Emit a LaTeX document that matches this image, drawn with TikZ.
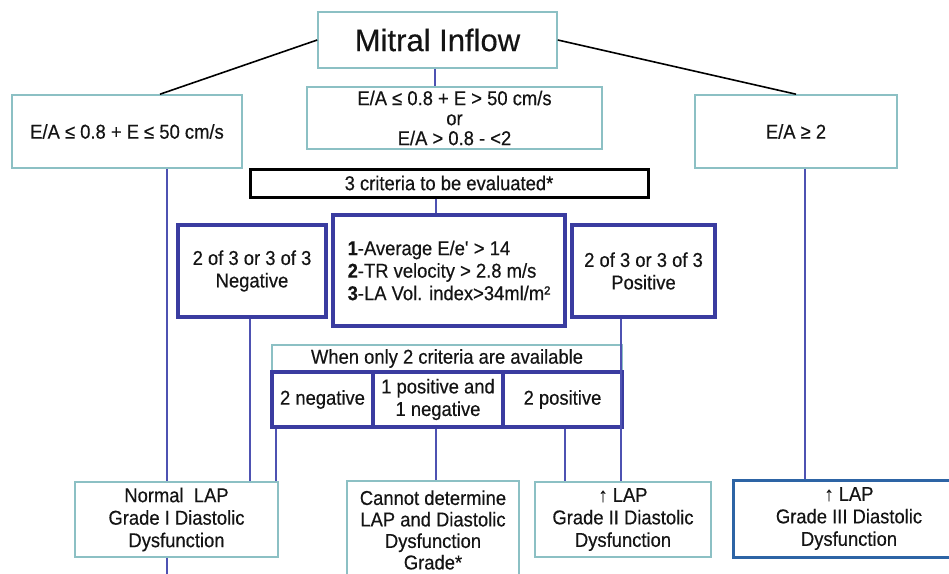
\documentclass[tikz,border=0pt]{standalone}
\usepackage{fontspec}
\setmainfont{Liberation Sans}[FakeStretch=0.92,FakeBold=0.4]
\newfontfamily\titlefont{Liberation Sans}[FakeBold=0.4]
\definecolor{tealb}{RGB}{140,192,196}
\definecolor{bboxc}{RGB}{58,60,160}
\definecolor{blinec}{RGB}{78,82,178}
\definecolor{gthree}{RGB}{45,100,165}
\definecolor{txt}{RGB}{20,20,20}
\begin{document}
\begin{tikzpicture}[x=1pt,y=-1pt,
  every node/.style={text=txt, font=\fontsize{20}{22.5}\selectfont, align=center, inner sep=0pt},
  tbox/.style={draw=tealb, line width=1.6pt, fill=white},
  bbox/.style={draw=bboxc, line width=3.5pt, fill=white},
  kbox/.style={draw=black, line width=3pt, fill=white},
  gbox/.style={draw=gthree, line width=3pt, fill=white},
  bline/.style={draw=blinec, line width=2.2pt},
  kline/.style={draw=black, line width=1.6pt}]
\clip (0,0) rectangle (949,573);
\fill[white] (0,0) rectangle (949,573);

% top level
\node[tbox, minimum width=239pt, minimum height=56pt, font=\titlefont\fontsize{31}{34}\selectfont] (mitral) at (437.5,40) {Mitral Inflow};
\node[tbox, minimum width=230pt, minimum height=73pt] (left) at (127,131.5) {E/A ≤ 0.8 + E ≤ 50 cm/s};
\node[tbox, minimum width=295pt, minimum height=62pt, font=\fontsize{20}{20}\selectfont] (center) at (454.5,118) {E/A ≤ 0.8 + E > 50 cm/s\\or\\E/A > 0.8 - <2};
\node[tbox, minimum width=202pt, minimum height=73pt] (right) at (796,131.5) {E/A ≥ 2};

% criteria
\node[kbox, minimum width=398pt, minimum height=28pt] (crit) at (449,183) {3 criteria to be evaluated*};
\node[bbox, minimum width=232pt, minimum height=111pt, align=left] (list) at (449,270.5)
  {\textbf{1}-Average E/e\textquotesingle{} > 14\\\textbf{2}-TR velocity > 2.8 m/s\\\textbf{3}-LA Vol. index>34ml/m²};
\node[bbox, minimum width=148pt, minimum height=92pt] (neg) at (252,271) {2 of 3 or 3 of 3\\Negative};
\node[bbox, minimum width=143pt, minimum height=92pt] (pos) at (643.5,271) {2 of 3 or 3 of 3\\Positive};

% two criteria
\node[tbox, minimum width=350pt, minimum height=27pt] (when) at (447,358.5) {When only 2 criteria are available};
\node[bbox, minimum width=101pt, minimum height=55pt] (ntwo) at (322.5,399.5) {2 negative};
\node[bbox, minimum width=130pt, minimum height=55pt] (mixed) at (438,399.5) {1 positive and\\1 negative};
\node[bbox, minimum width=119pt, minimum height=55pt] (ptwo) at (562.5,399.5) {2 positive};

% outcomes
\node[tbox, minimum width=203pt, minimum height=75pt] (normal) at (176.5,519.5) {Normal\ \ LAP\\Grade I Diastolic\\Dysfunction};
\node[tbox, minimum width=172pt, minimum height=98pt, font=\fontsize{20}{21.5}\selectfont] (cannot) at (433,530) {Cannot determine\\LAP and Diastolic\\Dysfunction\\Grade*};
\node[tbox, minimum width=176pt, minimum height=75pt] (gtwo) at (623,519.5) {↑ LAP\\Grade II Diastolic\\Dysfunction};
\node[gbox, minimum width=232pt, minimum height=77pt] (gthr) at (849,518.5) {↑ LAP\\Grade III Diastolic\\Dysfunction};

% coordinates for vertical connectors
\coordinate (xa) at (167,0);
\coordinate (xb) at (250,0);
\coordinate (xc) at (276,0);
\coordinate (xd) at (435,0);
\coordinate (xe) at (436,0);
\coordinate (xf) at (565,0);
\coordinate (xg) at (621,0);
\coordinate (xh) at (805,0);
\coordinate (bot) at (167,590);

% connectors
\draw[kline] (mitral.west) -- ([xshift=33pt]left.north);
\draw[kline] (mitral.east) -- (right.north);
\draw[bline] (mitral.south -| xd) -- (center.north -| xd);
\draw[bline] (crit.south -| xe) -- (list.north -| xe);
\draw[bline] (left.south -| xa) -- (normal.north -| xa);
\draw[bline] (normal.south -| xa) -- (bot);
\draw[bline] (neg.south -| xb) -- (normal.north -| xb);
\draw[bline] (ntwo.south -| xc) -- (normal.north -| xc);
\draw[bline] (mixed.south -| xe) -- (cannot.north -| xe);
\draw[bline] (ptwo.south -| xf) -- (gtwo.north -| xf);
\draw[bline] (pos.south -| xg) -- (gtwo.north -| xg);
\draw[bline] (right.south -| xh) -- (gthr.north -| xh);
\end{tikzpicture}
\end{document}
